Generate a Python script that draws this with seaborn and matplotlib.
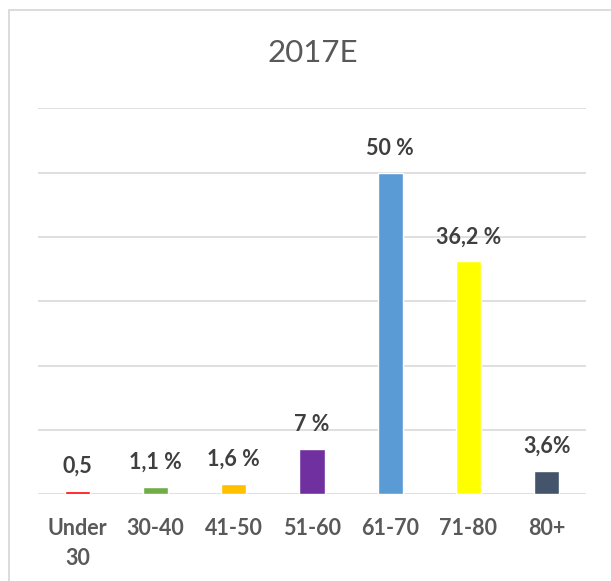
import numpy as np
import matplotlib
matplotlib.use("Agg")
import matplotlib.pyplot as plt
import matplotlib.patches as mpatches
import pandas as pd
import seaborn as sns

# data
categories = ["Under\n30", "30-40", "41-50", "51-60", "61-70", "71-80", "80+"]
shares = [0.5, 1.1, 1.6, 7.0, 50.0, 36.2, 3.6]
value_labels = ["0,5", "1,1 %", "1,6 %", "7 %", "50 %", "36,2 %", "3,6%"]
bar_colors = ["#FF0000", "#70AD47", "#FFC000", "#7030A0", "#5B9BD5", "#FFFF00", "#44546A"]
title = "2017E"


def setup_style():
    sns.set_theme(style="white")
    plt.rcParams["font.family"] = ["Lato", "DejaVu Sans"]


def main():
    setup_style()
    df = pd.DataFrame({"group": categories, "share": shares})

    fig = plt.figure(figsize=(6.11, 5.81), dpi=100)
    ax = fig.add_axes([0.0627, 0.1492, 0.8959, 0.6642])

    sns.barplot(data=df, x="group", y="share", hue="group", order=categories,
                palette=bar_colors, width=0.32, legend=False, saturation=1, ax=ax)

    ax.set_ylim(0, 60)
    ax.set_yticks(np.arange(0, 61, 10))
    ax.set_yticklabels([])
    ax.yaxis.grid(True, color="#D9D9D9", linewidth=1.2)
    ax.set_axisbelow(True)
    for s in ax.spines.values():
        s.set_visible(False)
    ax.set_xlabel("")
    ax.set_ylabel("")
    ax.tick_params(axis="both", length=0)
    ax.tick_params(axis="x", pad=17)
    for lab in ax.get_xticklabels():
        lab.set_fontsize(15.5)
        lab.set_fontweight("bold")
        lab.set_color("#595959")
        lab.set_linespacing(1.55)

    for i, (v, txt) in enumerate(zip(shares, value_labels)):
        ax.annotate(txt, (i, v), xytext=(0, 13), textcoords="offset points",
                    ha="center", va="baseline", fontsize=15.5, fontweight="bold",
                    color="#3F3F3F")

    fig.text(0.512, 1 - 53.5 / 581, title, ha="center", va="center",
             fontsize=22.5, color="#595959")

    # chart area border (only left and top visible in the crop)
    border = mpatches.Rectangle((8.5 / 611, -0.1), 1.2, 1 - 9.5 / 581 + 0.1,
                                transform=fig.transFigure, fill=False,
                                edgecolor="#D9D9D9", linewidth=1.3)
    fig.patches.append(border)

    fig.savefig("out.png", dpi=100)
    plt.close(fig)


if __name__ == "__main__":
    main()
